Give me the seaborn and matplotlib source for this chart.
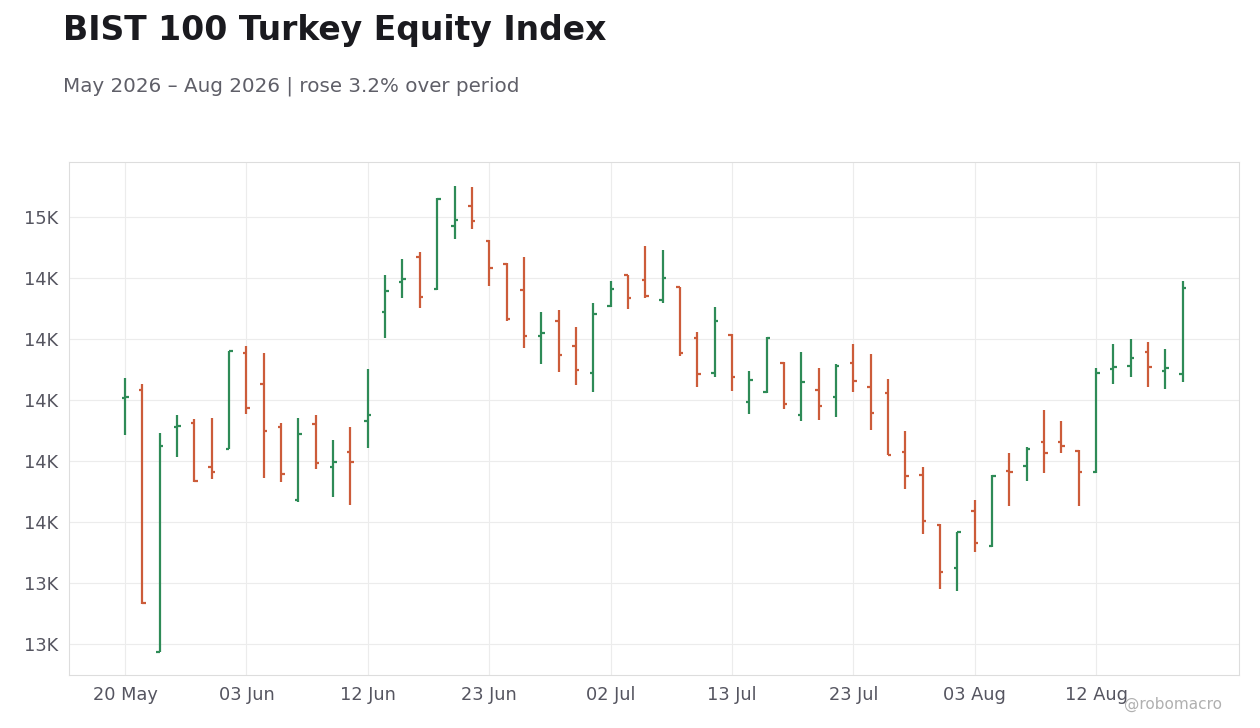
import matplotlib
matplotlib.use("Agg")
import matplotlib.pyplot as plt
import seaborn as sns
import numpy as np
from matplotlib.ticker import FuncFormatter

opens = [14008,14041,12967,13889,13906,13725,13799,14193,14066,13889,13590,13902,13725,13787,13914,
         14361,14484,14586,14455,14713,14795,14652,14558,14451,14262,14324,14221,14111,14385,14512,
         14492,14410,14463,14254,14111,14267,13992,14033,14152,13939,14041,14012,14152,14053,14029,
         13787,13692,13487,13311,13545,13401,13709,13729,13828,13828,13791,13705,14127,14139,14197,
         14119,14107]
highs = [14090,14066,13865,13939,13922,13926,14201,14221,14193,13906,13926,13939,13836,13889,14127,
         14512,14578,14607,14828,14877,14873,14654,14560,14586,14361,14369,14299,14398,14488,14514,
         14631,14615,14465,14279,14381,14269,14119,14258,14154,14197,14131,14148,14230,14189,14086,
         13873,13725,13491,13459,13590,13692,13783,13807,13959,13914,13795,14131,14230,14250,14238,
         14209,14488]
lows = [13856,13162,12965,13766,13664,13676,13797,13943,13680,13664,13582,13717,13602,13570,13803,
        14254,14418,14377,14453,14660,14701,14467,14324,14213,14148,14115,14061,14033,14381,14373,
        14418,14398,14180,14053,14094,14037,13943,14029,13963,13914,13918,13930,14033,13877,13774,
        13635,13451,13225,13217,13377,13399,13565,13668,13701,13781,13565,13701,14066,14094,14053,
        14045,14074]
closes = [14014,13166,13811,13893,13666,13705,14199,13967,13873,13697,13861,13742,13746,13746,13939,
          14447,14496,14422,14826,14738,14734,14541,14332,14262,14275,14184,14123,14353,14455,14418,
          14426,14500,14193,14107,14324,14094,14082,14254,13984,14074,13975,14139,14078,13947,13776,
          13688,13504,13295,13457,13414,13688,13705,13799,13783,13811,13705,14111,14135,14172,14135,
          14131,14459]
tick_positions = [0, 7, 14, 21, 28, 35, 42, 49, 56]
tick_labels = ["20 May", "03 Jun", "12 Jun", "23 Jun", "02 Jul", "13 Jul", "23 Jul", "03 Aug", "12 Aug"]
y_ticks = [13000, 13250, 13500, 13750, 14000, 14250, 14500, 14750]

sns.set_theme(style="white")
plt.rcParams['font.family'] = ['DejaVu Sans']

UP = "#2e8b57"
DOWN = "#cc5c3a"

fig = plt.figure(figsize=(12.6, 7.28), dpi=100)
ax = fig.add_axes([0.0548, 0.0728, 0.9285, 0.7047])

x = np.arange(len(opens))
o = np.array(opens); h = np.array(highs); l = np.array(lows); c = np.array(closes)
cols = [UP if cc >= oo else DOWN for oo, cc in zip(o, c)]
ax.vlines(x, l, h, colors=cols, linewidth=1.6, zorder=3)
ax.hlines(o, x - 0.2, x, colors=cols, linewidth=1.6, zorder=3)
ax.hlines(c, x, x + 0.2, colors=cols, linewidth=1.6, zorder=3)

ax.set_xlim(-3.23, 64.24)
ax.set_ylim(12872, 14976)
ax.set_xticks(tick_positions)
ax.set_xticklabels(tick_labels)
ax.set_yticks(y_ticks)
ax.yaxis.set_major_formatter(FuncFormatter(lambda v, p: f"{v/1000:.0f}K"))
ax.grid(True, color="#ececec", linewidth=0.8)
ax.set_axisbelow(True)
for s in ax.spines.values():
    s.set_color("#dddddd")
    s.set_linewidth(0.8)
ax.tick_params(axis="both", labelsize=12.8, colors="#555560", length=0, pad=8)

fig.text(0.05, 0.958, "BIST 100 Turkey Equity Index", fontsize=23.8, fontweight="bold",
         color="#1a1a1f", va="center", ha="left")
fig.text(0.05, 0.882, "May 2026 – Aug 2026 | rose 3.2% over period", fontsize=14.3,
         color="#5f5f68", va="center", ha="left")
fig.text(0.97, 0.032, "@robomacro", fontsize=11, color="#b0b0b0", ha="right", va="center")

fig.savefig("out.png", dpi=100)
